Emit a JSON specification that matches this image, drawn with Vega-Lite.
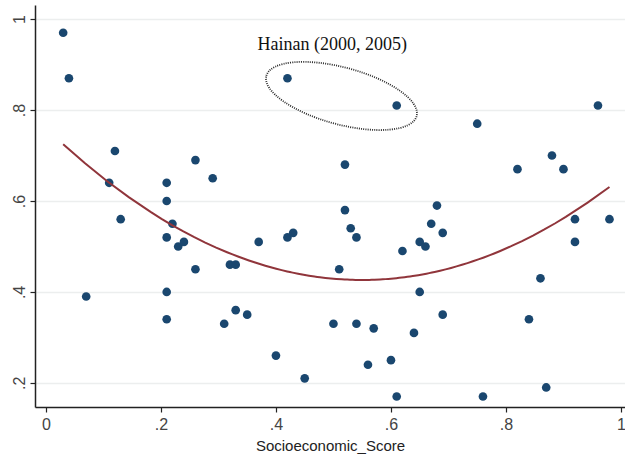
{
  "$schema": "https://vega.github.io/schema/vega-lite/v6.json",
  "width": 590,
  "height": 402,
  "autosize": {"type": "none"},
  "padding": {"left": 35, "top": 5, "right": 0, "bottom": 51},
  "background": "white",
  "config": {"view": {"stroke": null}},
  "datasets": {
    "pts": [
      {"x": 0.03, "y": 0.97}, {"x": 0.04, "y": 0.87}, {"x": 0.42, "y": 0.87}, {"x": 0.61, "y": 0.81},
      {"x": 0.75, "y": 0.77}, {"x": 0.96, "y": 0.81}, {"x": 0.52, "y": 0.68}, {"x": 0.82, "y": 0.67},
      {"x": 0.88, "y": 0.70}, {"x": 0.90, "y": 0.67}, {"x": 0.52, "y": 0.58}, {"x": 0.53, "y": 0.54},
      {"x": 0.68, "y": 0.59}, {"x": 0.67, "y": 0.55}, {"x": 0.92, "y": 0.56}, {"x": 0.98, "y": 0.56},
      {"x": 0.12, "y": 0.71}, {"x": 0.11, "y": 0.64}, {"x": 0.21, "y": 0.64}, {"x": 0.26, "y": 0.69},
      {"x": 0.29, "y": 0.65}, {"x": 0.21, "y": 0.60}, {"x": 0.13, "y": 0.56}, {"x": 0.22, "y": 0.55},
      {"x": 0.21, "y": 0.52}, {"x": 0.23, "y": 0.50}, {"x": 0.24, "y": 0.51}, {"x": 0.37, "y": 0.51},
      {"x": 0.42, "y": 0.52}, {"x": 0.43, "y": 0.53}, {"x": 0.26, "y": 0.45}, {"x": 0.32, "y": 0.46},
      {"x": 0.33, "y": 0.46}, {"x": 0.07, "y": 0.39}, {"x": 0.21, "y": 0.40}, {"x": 0.21, "y": 0.34},
      {"x": 0.31, "y": 0.33}, {"x": 0.33, "y": 0.36}, {"x": 0.35, "y": 0.35}, {"x": 0.40, "y": 0.26},
      {"x": 0.45, "y": 0.21}, {"x": 0.54, "y": 0.52}, {"x": 0.51, "y": 0.45}, {"x": 0.62, "y": 0.49},
      {"x": 0.65, "y": 0.51}, {"x": 0.66, "y": 0.50}, {"x": 0.69, "y": 0.53}, {"x": 0.65, "y": 0.40},
      {"x": 0.50, "y": 0.33}, {"x": 0.54, "y": 0.33}, {"x": 0.57, "y": 0.32}, {"x": 0.64, "y": 0.31},
      {"x": 0.69, "y": 0.35}, {"x": 0.56, "y": 0.24}, {"x": 0.60, "y": 0.25}, {"x": 0.61, "y": 0.17},
      {"x": 0.76, "y": 0.17}, {"x": 0.84, "y": 0.34}, {"x": 0.86, "y": 0.43}, {"x": 0.87, "y": 0.19},
      {"x": 0.92, "y": 0.51}
    ],
    "ann": [{"x": 0.514, "y": 0.831, "label": "Hainan (2000, 2005)", "ty": 0.943, "tx": 0.498}]
  },
  "layer": [
    {
      "data": {"name": "pts"},
      "mark": {"type": "point", "filled": true, "color": "#1a476f", "opacity": 1, "size": 75},
      "encoding": {
        "x": {
          "field": "x", "type": "quantitative",
          "scale": {"domain": [-0.019, 1.007], "nice": false, "zero": false},
          "axis": {
            "values": [0, 0.2, 0.4, 0.6, 0.8, 1],
            "labelExpr": "replace(toString(datum.value), /^0\\./, '.')",
            "title": "Socioeconomic_Score",
            "titleFont": "Liberation Sans", "titleFontWeight": "normal", "titleFontSize": 15, "titleColor": "#222",
            "titlePadding": 6,
            "labelFont": "Liberation Sans", "labelFontSize": 16, "labelColor": "#444",
            "domainColor": "#222", "domainWidth": 1.5, "tickColor": "#222", "tickSize": 5, "tickWidth": 1.2,
            "labelPadding": 4, "grid": false
          }
        },
        "y": {
          "field": "y", "type": "quantitative",
          "scale": {"domain": [0.147, 1.031], "nice": false, "zero": false},
          "axis": {
            "values": [0.2, 0.4, 0.6, 0.8, 1],
            "labelExpr": "replace(toString(datum.value), /^0\\./, '.')",
            "title": null,
            "labelAngle": -90, "labelAlign": "center", "labelBaseline": "bottom",
            "labelFont": "Liberation Sans", "labelFontSize": 16, "labelColor": "#444",
            "domainColor": "#222", "domainWidth": 1.5, "tickColor": "#222", "tickSize": 5, "tickWidth": 1.2,
            "labelPadding": 3,
            "grid": true, "gridColor": "#eceeee", "gridWidth": 1.4
          }
        }
      }
    },
    {
      "data": {"name": "pts"},
      "transform": [
        {"regression": "y", "on": "x", "method": "poly", "order": 2, "extent": [0.03, 0.98]}
      ],
      "mark": {"type": "line", "color": "#90353b", "strokeWidth": 2},
      "encoding": {
        "x": {"field": "x", "type": "quantitative"},
        "y": {"field": "y", "type": "quantitative"}
      }
    },
    {
      "data": {"name": "ann"},
      "mark": {
        "type": "point",
        "shape": "M -1 0 A 1 0.366 0 1 1 1 0 A 1 0.366 0 1 1 -1 0 Z",
        "filled": false, "stroke": "#2a2a2a", "strokeWidth": 1.8, "strokeDash": [1, 1.2],
        "size": 24200, "angle": 15, "opacity": 1
      },
      "encoding": {
        "x": {"field": "x", "type": "quantitative"},
        "y": {"field": "y", "type": "quantitative"}
      }
    },
    {
      "data": {"name": "ann"},
      "mark": {"type": "text", "font": "Liberation Serif", "fontSize": 18, "color": "#111", "align": "center", "baseline": "middle"},
      "encoding": {
        "x": {"field": "tx", "type": "quantitative"},
        "y": {"field": "ty", "type": "quantitative"},
        "text": {"field": "label"}
      }
    }
  ]
}
